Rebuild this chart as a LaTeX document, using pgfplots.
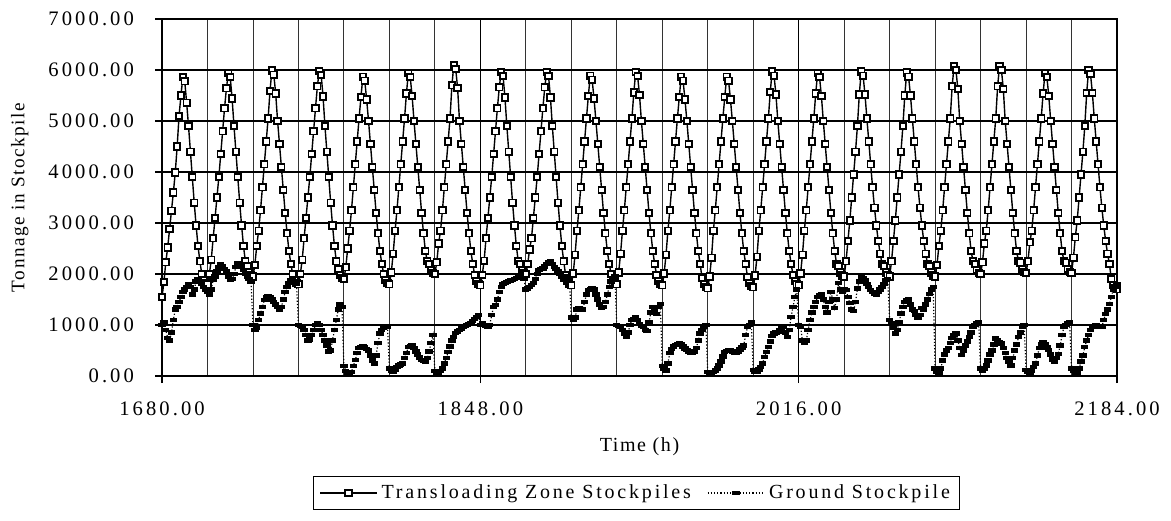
\documentclass[border=0pt]{standalone}
\usepackage{fontspec}
\setmainfont{Liberation Serif}
\newfontfamily\ticksfont{Liberation Serif}[LetterSpace=15]
\newfontfamily\labfont{Liberation Serif}[LetterSpace=8]
\newfontfamily\legfont{Liberation Serif}[LetterSpace=14]
\usepackage{pgfplots}
\usepackage{pgfplotstable}
\pgfplotsset{compat=1.18}

\pgfplotstableread[row sep=\\]{
t tz gs\\
1680 1550 1000\\ 1681 1840 1050\\ 1682 2230 900\\ 1683 2520 750\\ 1684 2880 700\\ 1685 3240 850\\
1686 3600 1100\\ 1687 3990 1300\\ 1688 4500 1350\\ 1689 5100 1450\\ 1690 5500 1550\\ 1691 5860 1650\\
1692 5780 1700\\ 1693 5360 1750\\ 1694 4900 1800\\ 1695 4400 1750\\ 1696 3900 1600\\ 1697 3400 1700\\
1698 2950 1850\\ 1699 2550 1900\\ 1700 2250 1850\\ 1701 2000 1800\\ 1702 1880 1750\\ 1703 1820 1700\\
1704 1800 1650\\ 1705 2000 1600\\ 1706 2280 1700\\ 1707 2700 1880\\ 1708 3100 1950\\ 1709 3500 2050\\
1710 3900 2140\\ 1711 4350 2200\\ 1712 4800 2150\\ 1713 5250 2100\\ 1714 5640 2050\\ 1715 5940 1950\\
1716 5860 1880\\ 1717 5440 1900\\ 1718 4900 2000\\ 1719 4400 2140\\ 1720 3900 2210\\ 1721 3400 2200\\
1722 2950 2150\\ 1723 2550 2080\\ 1724 2250 2000\\ 1725 2150 1950\\ 1726 2030 1900\\ 1727 1970 1850\\
1728 1950 1000\\ 1729 2180 900\\ 1730 2550 950\\ 1731 2850 1100\\ 1732 3250 1230\\ 1733 3700 1350\\
1734 4150 1490\\ 1735 4600 1550\\ 1736 5050 1560\\ 1737 5590 1550\\ 1738 5990 1500\\ 1739 5910 1450\\
1740 5540 1400\\ 1741 5000 1350\\ 1742 4550 1300\\ 1743 4100 1350\\ 1744 3650 1500\\ 1745 3200 1650\\
1746 2800 1750\\ 1747 2450 1820\\ 1748 2200 1880\\ 1749 2000 1900\\ 1750 1880 1850\\ 1751 1820 1800\\
1752 1800 1000\\ 1753 2000 980\\ 1754 2280 960\\ 1755 2700 900\\ 1756 3100 800\\ 1757 3500 700\\
1758 3900 720\\ 1759 4350 800\\ 1760 4800 900\\ 1761 5250 1000\\ 1762 5680 1040\\ 1763 5980 1000\\
1764 5900 900\\ 1765 5480 800\\ 1766 4900 700\\ 1767 4400 600\\ 1768 3900 480\\ 1769 3400 500\\
1770 2950 700\\ 1771 2550 900\\ 1772 2250 1100\\ 1773 2100 1300\\ 1774 1980 1400\\ 1775 1920 1350\\
1776 1900 200\\ 1777 2130 100\\ 1778 2500 50\\ 1779 2850 30\\ 1780 3250 80\\ 1781 3700 200\\
1782 4150 310\\ 1783 4600 450\\ 1784 5050 550\\ 1785 5470 570\\ 1786 5870 580\\ 1787 5790 570\\
1788 5420 530\\ 1789 5000 500\\ 1790 4550 400\\ 1791 4100 300\\ 1792 3650 250\\ 1793 3200 400\\
1794 2800 650\\ 1795 2450 830\\ 1796 2200 900\\ 1797 2000 950\\ 1798 1880 960\\ 1799 1820 960\\
1800 1800 150\\ 1801 2030 100\\ 1802 2400 80\\ 1803 2850 120\\ 1804 3250 180\\ 1805 3700 210\\
1806 4150 230\\ 1807 4600 250\\ 1808 5050 350\\ 1809 5540 450\\ 1810 5940 570\\ 1811 5860 590\\
1812 5490 600\\ 1813 5000 550\\ 1814 4550 480\\ 1815 4100 420\\ 1816 3650 360\\ 1817 3200 310\\
1818 2800 290\\ 1819 2450 280\\ 1820 2250 350\\ 1821 2200 480\\ 1822 2080 650\\ 1823 2020 800\\
1824 2000 100\\ 1825 2230 60\\ 1826 2600 50\\ 1827 2850 100\\ 1828 3250 150\\ 1829 3700 250\\
1830 4150 350\\ 1831 4600 470\\ 1832 5050 580\\ 1833 5700 700\\ 1834 6100 760\\ 1835 6020 840\\
1836 5650 870\\ 1837 5000 900\\ 1838 4550 930\\ 1839 4100 960\\ 1840 3650 980\\ 1841 3200 1000\\
1842 2800 1020\\ 1843 2450 1040\\ 1844 2200 1080\\ 1845 1980 1120\\ 1846 1860 1160\\ 1847 1800 1200\\
1848 1780 1000\\ 1849 1980 1040\\ 1850 2260 1000\\ 1851 2700 980\\ 1852 3100 960\\ 1853 3500 1000\\
1854 3900 1200\\ 1855 4350 1350\\ 1856 4800 1390\\ 1857 5250 1500\\ 1858 5660 1650\\ 1859 5960 1750\\
1860 5880 1800\\ 1861 5460 1820\\ 1862 4900 1840\\ 1863 4400 1860\\ 1864 3900 1870\\ 1865 3400 1880\\
1866 2950 1900\\ 1867 2550 1920\\ 1868 2250 1950\\ 1869 2200 1950\\ 1870 2080 1920\\ 1871 2020 1900\\
1872 2000 1700\\ 1873 2200 1720\\ 1874 2480 1750\\ 1875 2700 1780\\ 1876 3100 1820\\ 1877 3500 1900\\
1878 3900 2000\\ 1879 4350 2080\\ 1880 4800 2100\\ 1881 5250 2110\\ 1882 5660 2150\\ 1883 5960 2200\\
1884 5880 2240\\ 1885 5460 2250\\ 1886 4900 2200\\ 1887 4400 2140\\ 1888 3900 2100\\ 1889 3400 2050\\
1890 2950 2010\\ 1891 2550 1950\\ 1892 2250 1880\\ 1893 1980 1900\\ 1894 1860 1950\\ 1895 1800 1900\\
1896 1780 1150\\ 1897 2010 1100\\ 1898 2380 1150\\ 1899 2850 1300\\ 1900 3250 1320\\ 1901 3700 1310\\
1902 4150 1300\\ 1903 4600 1450\\ 1904 5050 1600\\ 1905 5490 1690\\ 1906 5890 1710\\ 1907 5810 1720\\
1908 5440 1700\\ 1909 5000 1600\\ 1910 4550 1500\\ 1911 4100 1400\\ 1912 3650 1330\\ 1913 3200 1350\\
1914 2800 1450\\ 1915 2450 1600\\ 1916 2200 1750\\ 1917 2000 1850\\ 1918 1880 1900\\ 1919 1820 1950\\
1920 1800 1000\\ 1921 2030 980\\ 1922 2400 960\\ 1923 2850 900\\ 1924 3250 820\\ 1925 3700 760\\
1926 4150 850\\ 1927 4600 1000\\ 1928 5050 1100\\ 1929 5560 1120\\ 1930 5960 1150\\ 1931 5880 1100\\
1932 5510 1020\\ 1933 5000 980\\ 1934 4550 960\\ 1935 4100 900\\ 1936 3650 880\\ 1937 3200 1050\\
1938 2800 1250\\ 1939 2450 1350\\ 1940 2200 1300\\ 1941 1980 1220\\ 1942 1860 1350\\ 1943 1800 1410\\
1944 1780 200\\ 1945 2010 150\\ 1946 2380 110\\ 1947 2850 250\\ 1948 3250 450\\ 1949 3700 530\\
1950 4150 580\\ 1951 4600 610\\ 1952 5050 630\\ 1953 5470 640\\ 1954 5870 620\\ 1955 5790 580\\
1956 5420 540\\ 1957 5000 510\\ 1958 4550 480\\ 1959 4100 460\\ 1960 3650 450\\ 1961 3200 480\\
1962 2800 550\\ 1963 2450 700\\ 1964 2200 830\\ 1965 1920 900\\ 1966 1800 960\\ 1967 1740 1000\\
1968 1720 80\\ 1969 1950 50\\ 1970 2320 60\\ 1971 2850 80\\ 1972 3250 110\\ 1973 3700 150\\
1974 4150 210\\ 1975 4600 280\\ 1976 5050 380\\ 1977 5470 470\\ 1978 5870 490\\ 1979 5790 510\\
1980 5420 500\\ 1981 5000 480\\ 1982 4550 460\\ 1983 4100 450\\ 1984 3650 480\\ 1985 3200 520\\
1986 2800 560\\ 1987 2450 600\\ 1988 2200 800\\ 1989 1940 960\\ 1990 1820 1000\\ 1991 1760 1050\\
1992 1740 120\\ 1993 1970 90\\ 1994 2340 80\\ 1995 2850 130\\ 1996 3250 180\\ 1997 3700 250\\
1998 4150 370\\ 1999 4600 470\\ 2000 5050 570\\ 2001 5570 680\\ 2002 5970 780\\ 2003 5890 830\\
2004 5520 850\\ 2005 5000 860\\ 2006 4550 900\\ 2007 4100 950\\ 2008 3650 960\\ 2009 3200 850\\
2010 2800 760\\ 2011 2450 900\\ 2012 2200 1160\\ 2013 1980 1350\\ 2014 1860 1550\\ 2015 1800 1700\\
2016 1780 1000\\ 2017 2010 960\\ 2018 2380 700\\ 2019 2850 650\\ 2020 3250 700\\ 2021 3700 900\\
2022 4150 1100\\ 2023 4600 1250\\ 2024 5050 1350\\ 2025 5540 1450\\ 2026 5940 1550\\ 2027 5860 1580\\
2028 5490 1600\\ 2029 5000 1500\\ 2030 4550 1350\\ 2031 4100 1250\\ 2032 3650 1450\\ 2033 3200 1650\\
2034 2800 1500\\ 2035 2450 1330\\ 2036 2200 1500\\ 2037 2150 1820\\ 2038 2030 1700\\ 2039 1970 1650\\
2040 1950 1700\\ 2041 2250 1690\\ 2042 2650 1550\\ 2043 3050 1430\\ 2044 3500 1300\\ 2045 3950 1270\\
2046 4400 1450\\ 2047 4900 1720\\ 2048 5520 1850\\ 2049 5970 1950\\ 2050 5890 1920\\ 2051 5520 1880\\
2052 5050 1800\\ 2053 4600 1750\\ 2054 4150 1690\\ 2055 3700 1650\\ 2056 3300 1620\\ 2057 2950 1600\\
2058 2650 1650\\ 2059 2400 1700\\ 2060 2200 1750\\ 2061 2150 1800\\ 2062 2030 1880\\ 2063 1970 1900\\
2064 1950 1100\\ 2065 2250 1040\\ 2066 2650 950\\ 2067 3050 830\\ 2068 3500 900\\ 2069 3950 1050\\
2070 4400 1230\\ 2071 4900 1350\\ 2072 5500 1450\\ 2073 5950 1480\\ 2074 5870 1500\\ 2075 5500 1400\\
2076 5050 1300\\ 2077 4600 1270\\ 2078 4150 1200\\ 2079 3700 1150\\ 2080 3300 1200\\ 2081 2950 1330\\
2082 2650 1300\\ 2083 2400 1400\\ 2084 2200 1500\\ 2085 2150 1610\\ 2086 2030 1700\\ 2087 1970 1750\\
2088 1950 150\\ 2089 2180 80\\ 2090 2550 50\\ 2091 2850 150\\ 2092 3250 300\\ 2093 3700 420\\
2094 4150 500\\ 2095 4600 550\\ 2096 5050 650\\ 2097 5680 750\\ 2098 6080 800\\ 2099 6000 830\\
2100 5630 700\\ 2101 5000 550\\ 2102 4550 410\\ 2103 4100 500\\ 2104 3650 600\\ 2105 3200 680\\
2106 2800 760\\ 2107 2450 850\\ 2108 2250 960\\ 2109 2200 1000\\ 2110 2080 1040\\ 2111 2020 1050\\
2112 2000 150\\ 2113 2230 110\\ 2114 2600 150\\ 2115 2850 210\\ 2116 3250 300\\ 2117 3700 420\\
2118 4150 500\\ 2119 4600 620\\ 2120 5050 740\\ 2121 5680 700\\ 2122 6080 660\\ 2123 6000 640\\
2124 5630 550\\ 2125 5000 450\\ 2126 4550 350\\ 2127 4100 280\\ 2128 3650 210\\ 2129 3200 350\\
2130 2800 500\\ 2131 2450 620\\ 2132 2250 760\\ 2133 2220 850\\ 2134 2100 960\\ 2135 2040 1000\\
2136 2020 120\\ 2137 2250 80\\ 2138 2620 50\\ 2139 2850 100\\ 2140 3250 180\\ 2141 3700 250\\
2142 4150 400\\ 2143 4600 550\\ 2144 5050 620\\ 2145 5540 670\\ 2146 5940 620\\ 2147 5860 560\\
2148 5490 510\\ 2149 5000 420\\ 2150 4550 320\\ 2151 4100 280\\ 2152 3650 350\\ 2153 3200 430\\
2154 2800 600\\ 2155 2450 800\\ 2156 2250 960\\ 2157 2220 1000\\ 2158 2100 1040\\ 2159 2040 1050\\
2160 2020 150\\ 2161 2320 100\\ 2162 2720 60\\ 2163 3050 50\\ 2164 3500 150\\ 2165 3950 280\\
2166 4400 400\\ 2167 4900 570\\ 2168 5550 700\\ 2169 6000 800\\ 2170 5920 900\\ 2171 5550 960\\
2172 5050 980\\ 2173 4600 1000\\ 2174 4150 980\\ 2175 3700 960\\ 2176 3300 960\\ 2177 2950 1100\\
2178 2650 1220\\ 2179 2400 1300\\ 2180 2200 1410\\ 2181 1900 1550\\ 2182 1780 1700\\ 2183 1720 1750\\
2184 1700 1800\\
}\data

\begin{document}
\begin{tikzpicture}
\useasboundingbox (0,0) rectangle (585.5pt,260pt);
\begin{axis}[
  at={(81pt,72pt)}, anchor=south west,
  scale only axis, width=477.5pt, height=178.5pt,
  xmin=1680, xmax=2184, ymin=0, ymax=7000,
  xtick={1680,1848,2016,2184},
  minor x tick num=6,
  ytick={0,1000,...,7000},
  grid=both,
  major grid style={black, line width=0.65pt},
  minor grid style={black!80, line width=0.45pt},
  axis line style={black, line width=0.8pt},
  tick style={black, line width=0.6pt},
  major tick length=7pt, minor tick length=0pt,
  tick align=center,
  xtick pos=bottom, ytick pos=left,
  /pgf/number format/assume math mode=true,
  /pgf/number format/.cd, fixed, fixed zerofill, precision=2, 1000 sep={},
  /pgfplots/.cd,
  ticklabel style={font=\fontsize{10.3}{12}\selectfont\ticksfont},
  xticklabel style={yshift=-6pt},
  yticklabel style={xshift=-7pt},
  xlabel={Time (h)},
  ylabel={Tonnage in Stockpile},
  xlabel style={font=\fontsize{10}{12}\selectfont\labfont, at={(axis description cs:0.5,-0.199)}, anchor=center},
  ylabel style={font=\fontsize{9.6}{11}\selectfont\labfont, at={(axis description cs:-0.149,0.5)}, anchor=center},
  legend style={at={(axis description cs:0.497,-0.328)}, anchor=center, draw=black, line width=0.6pt,
    font=\fontsize{10}{12}\selectfont\legfont, inner ysep=2pt,
    /tikz/every even column/.append style={column sep=6pt}},
  legend columns=2,
  legend image code/.code={\draw[mark repeat=2,mark phase=2,#1] plot coordinates {(0cm,0cm) (0.5cm,0cm) (1cm,0cm)};},
]
\addplot[black, line width=0.7pt, mark=square*, mark size=1.6pt,
  mark options={fill=white, draw=black, line width=0.9pt, solid}]
  table[x=t, y=tz] {\data};
\addlegendentry{Transloading Zone Stockpiles}
\addplot[black, line width=0.6pt, densely dotted, mark=square*, mark size=1.1pt,
  mark options={fill=black, draw=black, solid, xscale=1.4, yscale=0.75}]
  table[x=t, y=gs] {\data};
\addlegendentry{Ground Stockpile}
\end{axis}
\end{tikzpicture}
\end{document}
